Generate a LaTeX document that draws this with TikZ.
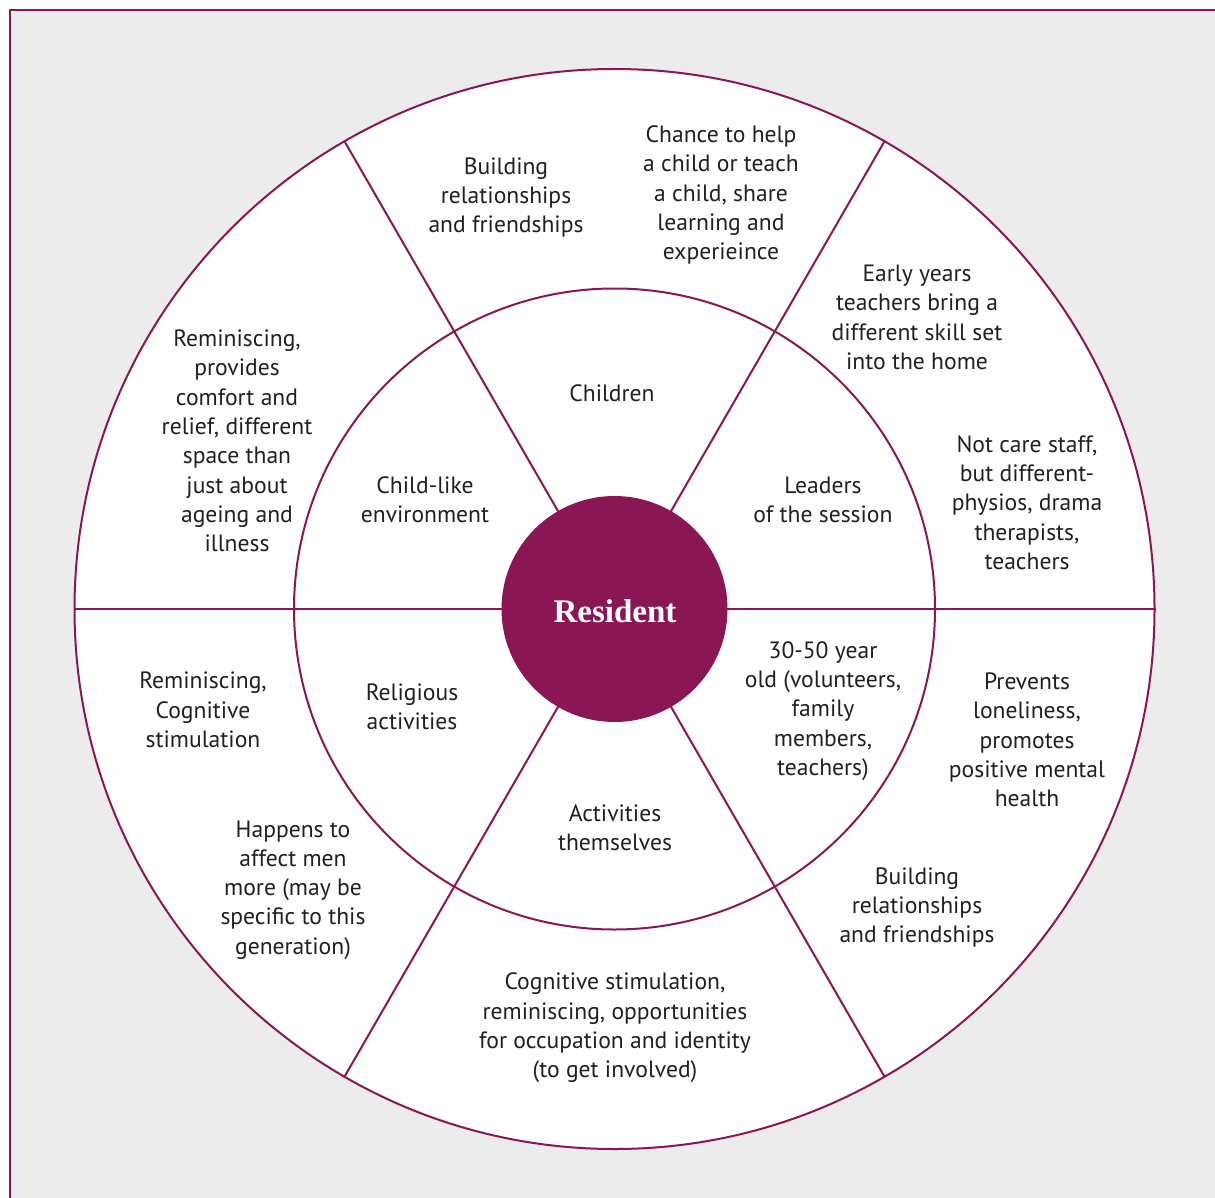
\documentclass[tikz,border=0pt]{standalone}
\usepackage{fontspec}
\setmainfont{PT Sans}
\newfontfamily\resfont{Liberation Serif}
\definecolor{wine}{RGB}{138,23,83}
\definecolor{bgray}{RGB}{236,236,236}
\definecolor{ink}{RGB}{35,31,32}
\begin{document}
\begin{tikzpicture}[x=1pt,y=-1pt,
  lbl/.style={align=center,text=ink,font=\fontsize{23.6}{29.3}\selectfont,inner sep=0pt,yshift=-1.5pt},
  ring/.style={draw=wine,line width=2pt}]
\useasboundingbox (0,0) rectangle (1215,1198);
\fill[bgray] (10,10) rectangle (1215,1198);
\draw[wine,line width=2pt] (1215,10) -- (10,10) -- (10,1198);
\coordinate (O) at (614.5,609);
\node[circle,minimum size=1080pt,ring,fill=white,inner sep=0pt] (outer) at (O) {};
\node[circle,minimum size=641pt,ring,inner sep=0pt] (inner) at (O) {};
\foreach \a in {0,60,...,300} \draw[ring] (O) -- (outer.\a);
\node[circle,minimum size=226pt,fill=wine,inner sep=0pt,text=white] (res) at (O) {};
\node[text=white,inner sep=0pt,text height=21pt,text depth=0pt,font=\resfont\bfseries\fontsize{33}{38}\selectfont] (restxt) at (615,612) {Resident};
% outer ring texts
\node[lbl] (bld1) at (506,196) {Building\\relationships\\and friendships};
\node[lbl] (chance) at (721,193.5) {Chance to help\\a child or teach\\a child, share\\learning and\\experieince};
\node[lbl] (early) at (917,316) {Early years\\teachers bring a\\different skill set\\into the home};
\node[lbl] (notcare) at (1027,501) {Not care staff,\\but different-\\physios, drama\\therapists,\\teachers};
\node[lbl] (prevents) at (1027,738.5) {Prevents\\loneliness,\\promotes\\positive mental\\health};
\node[lbl] (bld2) at (917,906) {Building\\relationships\\and friendships};
\node[lbl] (cogn) at (615,1026.5) {Cognitive stimulation,\\reminiscing, opportunities\\for occupation and identity\\(to get involved)};
\node[lbl] (happens) at (293,888.5) {Happens to\\affect men\\more (may be\\specific to this\\generation)};
\node[lbl] (remtwo) at (203,708.5) {Reminiscing,\\Cognitive\\stimulation};
\node[lbl] (remone) at (237,439.5) {Reminiscing,\\provides\\comfort and\\relief, different\\space than\\just about\\ageing and\\illness};
% inner ring texts
\node[lbl] (children) at (612,392) {Children};
\node[lbl] (leaders) at (823,498.5) {Leaders\\of the session};
\node[lbl] (thirty) at (823,709.5) {30-50 year\\old (volunteers,\\family\\members,\\teachers)};
\node[lbl] (activ) at (615,826) {Activities\\themselves};
\node[lbl] (relig) at (412,705.5) {Religious\\activities};
\node[lbl] (childlike) at (425,498.5) {Child-like\\environment};
\end{tikzpicture}
\end{document}
